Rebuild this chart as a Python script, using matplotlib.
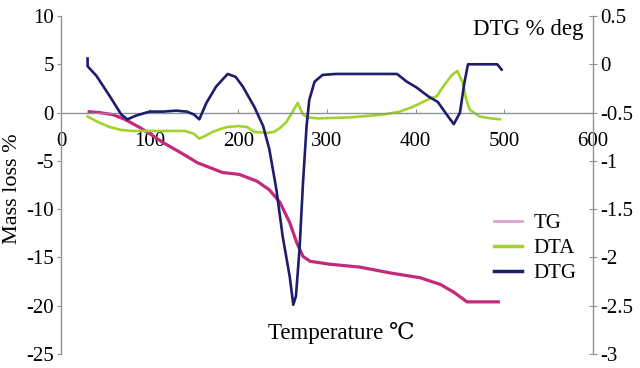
import matplotlib
matplotlib.use("Agg")
import matplotlib.pyplot as plt
from matplotlib.lines import Line2D

plt.rcParams['font.family'] = ['Liberation Serif', 'DejaVu Serif', 'DejaVu Sans']

# ---- data ----
tg_x = [30, 43, 58, 72, 89, 102, 115, 134, 145, 154, 168, 182, 201, 221, 235, 247, 258,
        266, 273, 281, 303, 337, 371, 405, 428, 443, 458, 475, 495]
tg_y = [0.1, 0.0, -0.2, -0.7, -1.55, -2.3, -3.1, -4.1, -4.7, -5.2, -5.7, -6.2, -6.4, -7.1,
        -8.0, -9.3, -11.4, -13.5, -14.9, -15.4, -15.7, -16.0, -16.6, -17.1, -17.8, -18.6,
        -19.6, -19.6, -19.6]

dta_x = [30, 40, 55, 68, 80, 110, 140, 150, 156, 163, 171, 180, 187, 200, 210, 218, 233,
         240, 247, 254, 262, 267, 273, 278, 290, 326, 364, 382, 397, 414, 424, 431, 441,
         447, 453, 457, 461, 472, 485, 495]
dta_y = [-0.4, -0.9, -1.5, -1.8, -1.9, -1.9, -1.9, -2.2, -2.7, -2.4, -2.0, -1.7, -1.5, -1.4,
         -1.5, -2.0, -2.1, -2.0, -1.6, -1.0, 0.2, 1.0, -0.2, -0.5, -0.6, -0.5, -0.2, 0.1,
         0.6, 1.35, 1.7, 2.7, 3.9, 4.3, 3.1, 1.35, 0.3, -0.4, -0.6, -0.7]

dtg_x = [30, 30, 40, 55, 68, 75, 85, 100, 115, 130, 142, 150, 156, 164, 175, 188, 197, 205,
         218, 228, 235, 243, 250, 258, 262, 265, 269, 273, 277, 280, 286, 295, 310, 340,
         379, 390, 401, 414, 425, 435, 443, 450, 455, 459, 475, 492, 497]
dtg_y = [0.06, -0.02, -0.12, -0.33, -0.52, -0.57, -0.53, -0.49, -0.49, -0.48, -0.49, -0.52,
         -0.57, -0.40, -0.23, -0.10, -0.13, -0.23, -0.44, -0.64, -0.88, -1.30, -1.78, -2.20,
         -2.49, -2.40, -1.92, -1.22, -0.64, -0.37, -0.18, -0.11, -0.10, -0.10, -0.10, -0.18,
         -0.24, -0.33, -0.39, -0.52, -0.62, -0.50, -0.19, 0.0, 0.0, 0.0, -0.055]

x_ticks = [0, 100, 200, 300, 400, 500, 600]
left_ticks = [10, 5, 0, -5, -10, -15, -20, -25]
right_ticks = [0.5, 0, -0.5, -1, -1.5, -2, -2.5, -3]
right_labels = ["0.5", "0", "-0.5", "-1", "-1.5", "-2", "-2.5", "-3"]

c_tg = "#c42a7c"
c_tg_leg = "#d8a6cc"
c_dta = "#a4d22c"
c_dtg = "#1e1c6c"
spine_c = "#8a949a"

fig = plt.figure(figsize=(6.4, 3.68), dpi=100)
ax = fig.add_axes([0.0953, 0.038, 0.8312, 0.9185])
ax2 = ax.twinx()

ax.plot(tg_x, tg_y, color=c_tg, lw=2.3, solid_capstyle='butt')
ax.plot(dta_x, dta_y, color=c_dta, lw=1.9)
ax2.plot(dtg_x, dtg_y, color=c_dtg, lw=1.9)

ax.set_xlim(0, 600)
ax.set_ylim(-25, 10)
ax2.set_ylim(-3, 0.5)

for a in (ax, ax2):
    a.spines['top'].set_visible(False)
    a.spines['bottom'].set_visible(False)
ax.spines['right'].set_visible(False)
ax2.spines['left'].set_visible(False)
ax.spines['left'].set_color(spine_c)
ax2.spines['right'].set_color(spine_c)
ax.spines['left'].set_linewidth(1.0)
ax2.spines['right'].set_linewidth(1.0)

# x axis line at y = 0
ax.spines['bottom'].set_visible(True)
ax.spines['bottom'].set_position(('data', 0))
ax.spines['bottom'].set_color(spine_c)
ax.spines['bottom'].set_linewidth(1.0)

ax.set_xticks(x_ticks)
ax.set_xticklabels([str(t) for t in x_ticks])
ax.tick_params(axis='x', direction='in', length=3, color=spine_c, labelsize=15, pad=14)
ax.set_yticks(left_ticks)
ax.set_yticklabels([str(t) for t in left_ticks])
ax.tick_params(axis='y', direction='out', length=3, color=spine_c, labelsize=15, pad=2)
ax2.set_yticks(right_ticks)
ax2.set_yticklabels(right_labels)
ax2.tick_params(axis='y', direction='inout', length=6, color=spine_c, labelsize=15, pad=2)

ax.set_ylabel("Mass loss %", fontsize=16)
ax.yaxis.set_label_coords(-0.073, 0.49)

fig.text(341 / 640, 1 - 333 / 368, "Temperature \u2103", fontsize=16.5, ha='center', va='center')
fig.text(583 / 640, 1 - 30 / 368, "DTG % deg", fontsize=16.5, ha='right', va='center')

handles = [Line2D([], [], color=c_tg_leg, lw=2.0),
           Line2D([], [], color=c_dta, lw=2.5),
           Line2D([], [], color=c_dtg, lw=2.5)]
fig.legend(handles, ["TG", "DTA", "DTG"], loc='upper left',
           bbox_to_anchor=(479 / 640, 1 - 199 / 368), frameon=False, fontsize=15,
           handlelength=1.35, handletextpad=0.55, labelspacing=0.26, borderpad=0.2)

fig.savefig("out.png", dpi=100)
